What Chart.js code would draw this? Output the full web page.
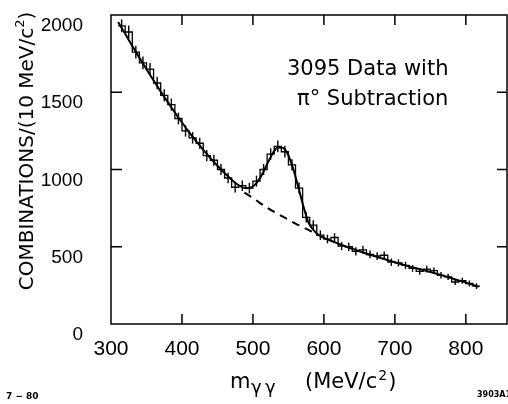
<!DOCTYPE html>
<html><head><meta charset="utf-8">
<script src="https://cdn.jsdelivr.net/npm/chart.js@4/dist/chart.umd.min.js"></script>
<style>html,body{margin:0;padding:0;background:#fff;}canvas{display:block;}</style>
</head><body>
<canvas id="c" width="508" height="404"></canvas>
<script>
// ---- data ----
const binCenters = [315,325,335,345,355,365,375,385,395,405,415,425,435,445,455,465,475,485,495,505,515,525,535,545,555,565,575,585,595,605,615,625,635,645,655,665,675,685,695,705,715,725,735,745,755,765,775,785,795,805,815];
const counts = [1930,1890,1760,1690,1650,1560,1480,1420,1330,1250,1205,1170,1090,1060,1000,945,885,895,880,925,1000,1100,1150,1115,1030,880,690,640,575,550,560,505,500,470,480,450,440,445,400,395,380,360,340,355,345,315,305,272,280,262,245];
const errors = [42,42,41,41,40,40,39,39,38,37,37,36,36,35,35,34,34,34,34,35,36,37,38,38,37,36,33,32,31,28,28,27,27,26,26,25,25,24,24,23,23,22,22,22,21,21,20,20,20,19,19];
const binWidth = 10;
const fitX = [310,320,330,340,350,360,370,380,390,400,410,420,430,440,450,460,470,480,490,500,510,520,528,535,542,548,555,562,570,578,585,592,600,610,620,630,640,650,660,670,680,690,700,710,720,730,740,750,760,770,780,790,800,810,818];
const fitY = [1955,1878,1800,1724,1649,1576,1505,1436,1369,1304,1242,1183,1127,1074,1024,977,934,898,878,890,945,1035,1105,1143,1140,1110,1030,920,780,660,610,578,558,539,521,503,487,471,455,441,427,413,400,386,373,361,349,337,324,310,296,282,268,253,241];
const bgX = [488,500,520,540,560,580,592];
const bgY = [850,815,752,700,650,605,575];
const xTicks = [300,400,500,600,700,800];
const yTicks = [0,500,1000,1500,2000];
const annotation = ["3095 Data with", "\u03C0\u00B0 Subtraction"];
const yTitle = ["COMBINATIONS/(10 MeV/c", "2", ")"];
const xTitle = ["m", "\u03B3", "\u03B3", "(MeV/c", "2", ")"];
const footLeft = "7 \u2212 80";
const footRight = "3903A13";

// ---- build datasets from arrays ----
const histPts = binCenters.map((c,i)=>({x:c-binWidth/2, y:counts[i]}));
histPts.push({x:binCenters[binCenters.length-1]+binWidth/2, y:counts[counts.length-1]});
const fitPts = fitX.map((x,i)=>({x, y:fitY[i]}));
const bgPts = bgX.map((x,i)=>({x, y:bgY[i]}));

const FONT = "'DejaVu Sans', sans-serif";

const decor = {
  id:'decor',
  afterDatasetsDraw(chart){
    const ctx = chart.ctx, xs = chart.scales.x, ys = chart.scales.y;
    const {left,right,top,bottom} = chart.chartArea;
    ctx.save();
    // error bars
    ctx.strokeStyle = '#000'; ctx.lineWidth = 1.4;
    binCenters.forEach((c,i)=>{
      const px = xs.getPixelForValue(c);
      ctx.beginPath();
      ctx.moveTo(px, ys.getPixelForValue(counts[i]-errors[i]));
      ctx.lineTo(px, ys.getPixelForValue(counts[i]+errors[i]));
      ctx.stroke();
    });
    // frame
    ctx.lineWidth = 1.5;
    ctx.strokeRect(left, top, right-left, bottom-top);
    // inward ticks
    xTicks.forEach(v=>{
      if (v===xTicks[0]) return;
      const px = xs.getPixelForValue(v);
      ctx.beginPath(); ctx.moveTo(px,bottom); ctx.lineTo(px,bottom-10);
      ctx.moveTo(px,top); ctx.lineTo(px,top+10); ctx.stroke();
    });
    yTicks.forEach(v=>{
      if (v===yTicks[0] || v===yTicks[yTicks.length-1]) return;
      const py = ys.getPixelForValue(v);
      ctx.beginPath(); ctx.moveTo(left,py); ctx.lineTo(left+11,py);
      ctx.moveTo(right,py); ctx.lineTo(right-10,py); ctx.stroke();
    });
    // annotation
    ctx.fillStyle = '#000';
    ctx.textBaseline = 'middle'; ctx.textAlign = 'left';
    ctx.font = "21px " + FONT;
    ctx.fillText(annotation[0], 287, 70);
    ctx.fillText(annotation[1], 297, 100);
    // y title (rotated)
    ctx.save();
    ctx.translate(33, 151);
    ctx.rotate(-Math.PI/2);
    ctx.textBaseline = 'alphabetic';
    const big = "20px " + FONT, small = "13px " + FONT;
    ctx.font = big; const w1 = ctx.measureText(yTitle[0]).width, w3 = ctx.measureText(yTitle[2]).width;
    ctx.font = small; const w2 = ctx.measureText(yTitle[1]).width;
    let x0 = -(w1+w2+w3)/2;
    ctx.font = big; ctx.fillText(yTitle[0], x0, 0);
    ctx.font = small; ctx.fillText(yTitle[1], x0+w1, -9);
    ctx.font = big; ctx.fillText(yTitle[2], x0+w1+w2, 0);
    ctx.restore();
    // x title
    ctx.textBaseline = 'alphabetic';
    ctx.font = "21px " + FONT; ctx.fillText(xTitle[0], 230, 388);
    ctx.font = "18px " + FONT; ctx.fillText(xTitle[1], 251, 393); ctx.fillText(xTitle[2], 265, 393);
    ctx.font = "21px " + FONT; ctx.fillText(xTitle[3], 305, 388);
    let wx = ctx.measureText(xTitle[3]).width;
    ctx.font = "14px " + FONT; ctx.fillText(xTitle[4], 305+wx+1, 380);
    let wx2 = ctx.measureText(xTitle[4]).width;
    ctx.font = "21px " + FONT; ctx.fillText(xTitle[5], 305+wx+wx2+2, 388);
    // footnotes
    ctx.font = "bold 9px " + FONT; ctx.fillText(footLeft, 6, 399);
    ctx.font = "bold 8px " + FONT; ctx.fillText(footRight, 477, 397);
    ctx.restore();
  }
};

new Chart(document.getElementById('c'), {
  type:'line',
  data:{datasets:[
    {label:'data', data:histPts, stepped:'before', borderColor:'#000', borderWidth:1.3, pointRadius:0, fill:false},
    {label:'fit', data:fitPts, borderColor:'#000', borderWidth:2, pointRadius:0, cubicInterpolationMode:'monotone', fill:false},
    {label:'background', data:bgPts, borderColor:'#000', borderWidth:2, borderDash:[8,6], pointRadius:0, cubicInterpolationMode:'monotone', fill:false}
  ]},
  options:{
    responsive:false, animation:false, devicePixelRatio:1,
    layout:{padding:{top:15, right:1, left:0, bottom:0}},
    plugins:{legend:{display:false}, tooltip:{enabled:false}, title:{display:false}},
    scales:{
      x:{type:'linear', min:300, max:858,
        afterFit(s){ s.height = 80; s.paddingLeft = 0; s.paddingRight = 0; },
        grid:{display:false, drawTicks:false}, border:{display:false},
        ticks:{stepSize:100, includeBounds:false, padding:13, color:'#000', maxRotation:0, autoSkip:false,
          font:{family:"'Liberation Sans', Arial, sans-serif", size:21},
          callback:(v)=> xTicks.includes(v) ? String(v) : ''}},
      y:{type:'linear', min:0, max:2000,
        afterFit(s){ s.width = 111; s.paddingTop = 0; s.paddingBottom = 0; },
        grid:{display:false, drawTicks:false}, border:{display:false},
        ticks:{stepSize:500, padding:28, labelOffset:11, color:'#000',
          font:{family:"'Liberation Sans', Arial, sans-serif", size:19},
          callback:(v)=> yTicks.includes(v) ? String(v) : ''}}
    }
  },
  plugins:[decor]
});
</script>
</body></html>
